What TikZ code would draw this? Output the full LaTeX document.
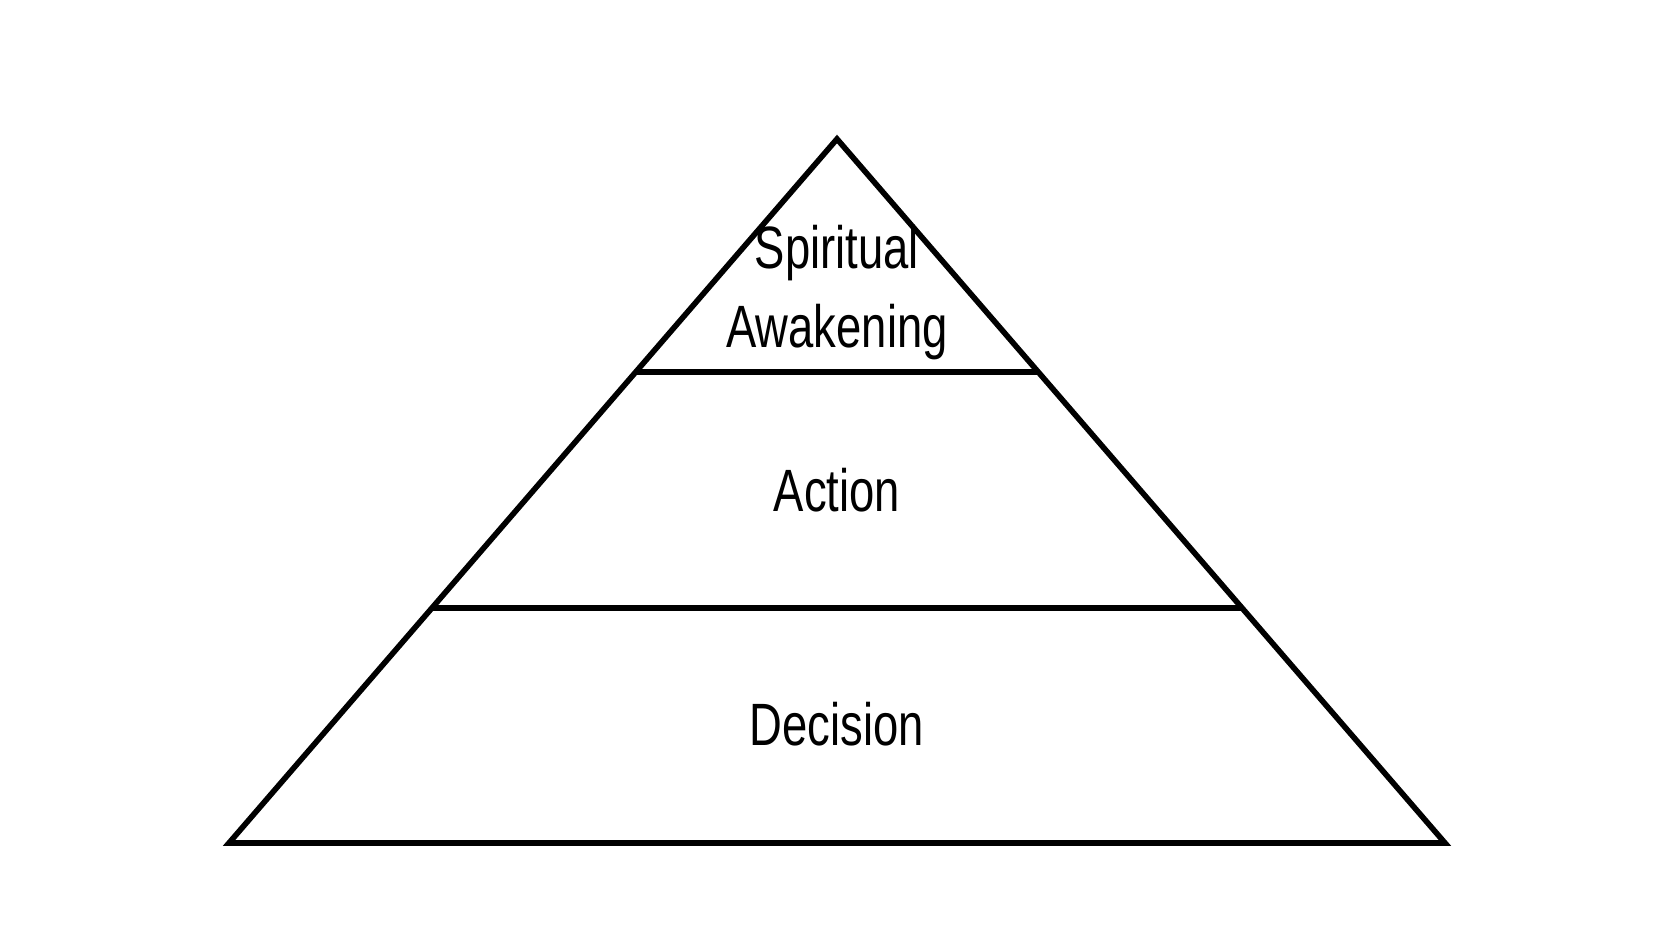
\documentclass[tikz,border=0pt]{standalone}
\usepackage{fontspec}
\setmainfont{Liberation Sans}
\usetikzlibrary{calc}
\tikzset{
  edge/.style={line width=1.6pt},
  label/.style={font=\fontsize{17}{20}\selectfont,xscale=0.76,inner sep=0pt}
}
\begin{document}
\begin{tikzpicture}
        \useasboundingbox (0,0) rectangle (16.79,9.33);
        \coordinate (T) at (8.37,7.94);
        \coordinate (L) at (2.29,0.90);
        \coordinate (R) at (14.45,0.90);
        \coordinate (A1) at ($(L)!0.669!(T)$);
        \coordinate (B1) at ($(R)!0.669!(T)$);
        \coordinate (A2) at ($(L)!0.334!(T)$);
        \coordinate (B2) at ($(R)!0.334!(T)$);

        \draw[edge,line join=miter] (L) -- (T) -- (R) -- cycle;
        \draw[edge] (A1) -- (B1);
        \draw[edge] (A2) -- (B2);

        \node[label] (spirit) at (8.37,6.80) {Spiritual};
        \node[label] (awake) at (8.37,6.01) {Awakening};
        \node[label] (action) at (8.37,4.43) {Action};
        \node[label] (decide) at (8.37,2.09) {Decision};
      \end{tikzpicture}
\end{document}
